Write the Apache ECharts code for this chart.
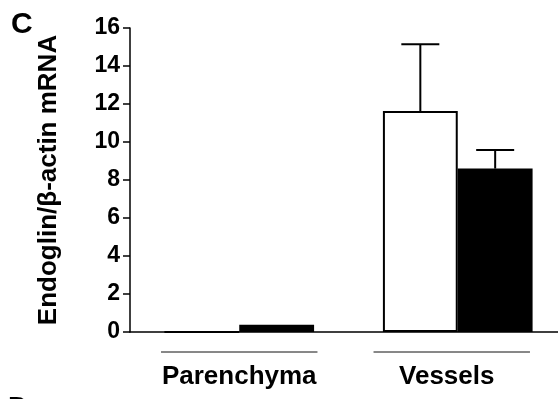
<!DOCTYPE html>
<html><head><meta charset="utf-8">
<script src="https://cdn.jsdelivr.net/npm/echarts@6/dist/echarts.min.js"></script>
<style>html,body{margin:0;padding:0;background:#fff;overflow:hidden;width:558px;height:399px}#c{width:567px;height:399px}</style>
</head><body><div id="c"></div>
<script>
const categories = ['Parenchyma', 'Vessels'];
const whiteValues = [0, 11.63];
const whiteErrors = [0, 3.52];
const blackValues = [0.38, 8.6];
const blackErrors = [0, 0.98];
const yTicks = [0, 2, 4, 6, 8, 10, 12, 14, 16];

const FONT = '"Liberation Sans", Arial, sans-serif';
const GAP = 0.315;

function errorSeries(values, errors, side) {
  return {
    type: 'custom',
    clip: false,
    z: 5,
    data: values.map((v, i) => [i, v, errors[i]]),
    renderItem: function (params, api) {
      const idx = api.value(0), v = api.value(1), e = api.value(2);
      if (!e) return null;
      const band = api.size([1, 0])[0];
      const base = api.coord([idx, v]);
      const top = api.coord([idx, v + e]);
      const x = base[0] + side * band * (1 - GAP) / 4;
      const half = 19;
      const style = { stroke: '#000', lineWidth: 2 };
      return { type: 'group', children: [
        { type: 'line', shape: { x1: x, y1: base[1], x2: x, y2: top[1] }, style },
        { type: 'line', shape: { x1: x - half, y1: top[1], x2: x + half, y2: top[1] }, style }
      ]};
    }
  };
}

const underline = {
  type: 'custom',
  clip: false,
  silent: true,
  data: categories.map((c, i) => [i, 0]),
  renderItem: function (params, api) {
    const band = api.size([1, 0])[0];
    const p = api.coord([api.value(0), 0]);
    const half = band * 0.358;
    const shift = api.value(0) === 1 ? -6 : 0;
    return { type: 'line', shape: { x1: p[0] - half + shift, y1: p[1] + 20, x2: p[0] + half + shift, y2: p[1] + 20 },
      style: { stroke: '#111', lineWidth: 1 } };
  }
};

const chart = echarts.init(document.getElementById('c'), null, { renderer: 'canvas' });
chart.setOption({
  animation: false,
  backgroundColor: '#fff',
  grid: { left: 130, top: 28, bottom: 67, right: 0, containLabel: false },
  xAxis: {
    type: 'category',
    data: categories,
    axisLine: { lineStyle: { color: '#000', width: 1.5 } },
    axisTick: { show: false },
    axisLabel: {
      interval: 0,
      margin: 32,
      color: '#000',
      fontFamily: FONT,
      fontWeight: 'bold',
      fontSize: 26,
      formatter: function (v) { return v === 'Vessels' ? '{v|' + v + '}' : '{p|' + v + '}'; },
      rich: {
        p: { fontFamily: FONT, fontWeight: 'bold', fontSize: 26, color: '#000' },
        v: { fontFamily: FONT, fontWeight: 'bold', fontSize: 26, color: '#000', padding: [0, 22, 0, 0] }
      }
    }
  },
  yAxis: {
    type: 'value',
    min: yTicks[0],
    max: yTicks[yTicks.length - 1],
    interval: 2,
    name: 'Endoglin/β-actin mRNA',
    nameLocation: 'middle',
    nameRotate: 90,
    nameGap: 68,
    nameTextStyle: { color: '#000', fontFamily: FONT, fontWeight: 'bold', fontSize: 26 },
    splitLine: { show: false },
    axisLine: { show: true, lineStyle: { color: '#000', width: 1.5 } },
    axisTick: { show: true, length: 7, lineStyle: { color: '#000', width: 1.5 } },
    axisLabel: { margin: 10, color: '#000', fontFamily: FONT, fontWeight: 'bold', fontSize: 23 }
  },
  series: [
    { type: 'bar', data: whiteValues, barGap: '0%', barCategoryGap: (GAP * 100) + '%',
      itemStyle: { color: '#fff', borderColor: '#000', borderWidth: 2 } },
    { type: 'bar', data: blackValues, barGap: '0%', barCategoryGap: (GAP * 100) + '%',
      itemStyle: { color: '#000', borderColor: '#000', borderWidth: 0 } },
    errorSeries(whiteValues, whiteErrors, -1),
    errorSeries(blackValues, blackErrors, 1),
    underline
  ],
  graphic: [
    { type: 'text', left: 11, top: 10, style: { text: 'C', font: 'bold 30px ' + FONT, fill: '#000' } },
    { type: 'text', left: 8, top: 394, style: { text: 'D', font: 'bold 28px ' + FONT, fill: '#000' } }
  ]
});
</script></body></html>
